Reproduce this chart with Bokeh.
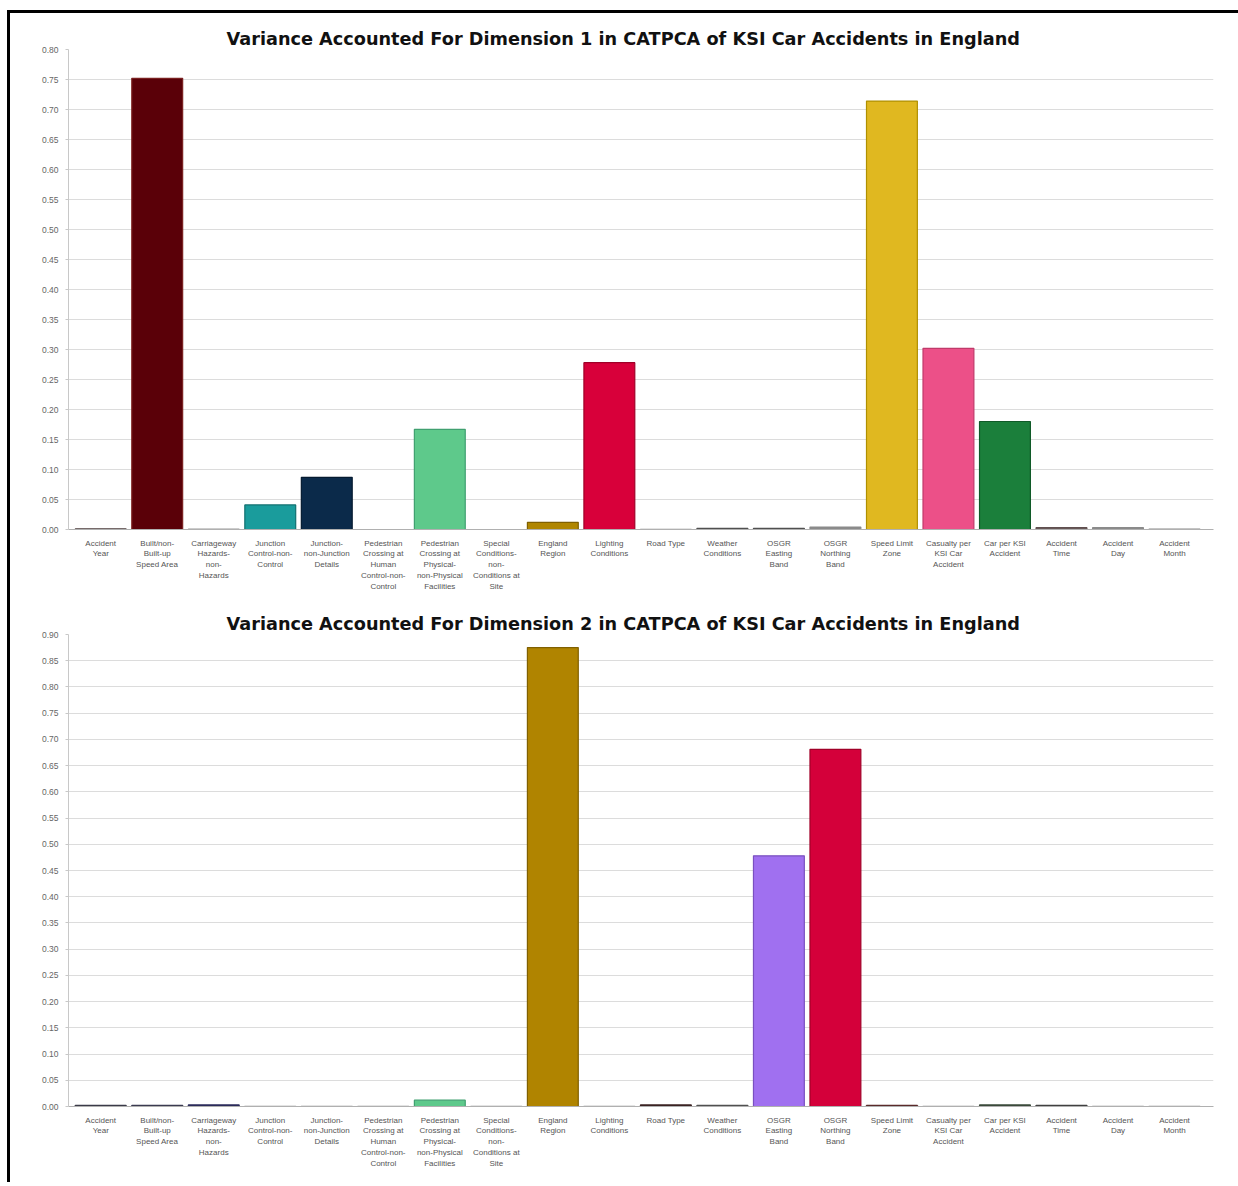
from bokeh.plotting import figure
from bokeh.layouts import column
from bokeh.models import FixedTicker, Range1d, SingleIntervalTicker, NumeralTickFormatter, ColumnDataSource
from bokeh.embed import file_html
from bokeh.resources import INLINE

# ---------------- data ----------------
categories = [
    "Accident\nYear",
    "Built/non-\nBuilt-up\nSpeed Area",
    "Carriageway\nHazards-\nnon-\nHazards",
    "Junction\nControl-non-\nControl",
    "Junction-\nnon-Junction\nDetails",
    "Pedestrian\nCrossing at\nHuman\nControl-non-\nControl",
    "Pedestrian\nCrossing at\nPhysical-\nnon-Physical\nFacilities",
    "Special\nConditions-\nnon-\nConditions at\nSite",
    "England\nRegion",
    "Lighting\nConditions",
    "Road Type",
    "Weather\nConditions",
    "OSGR\nEasting\nBand",
    "OSGR\nNorthing\nBand",
    "Speed Limit\nZone",
    "Casualty per\nKSI Car\nAccident",
    "Car per KSI\nAccident",
    "Accident\nTime",
    "Accident\nDay",
    "Accident\nMonth",
]

dim1_values = [0.001, 0.752, 0.0005, 0.041, 0.087, 0.0, 0.167, 0.0, 0.012, 0.278,
               0.0005, 0.002, 0.002, 0.004, 0.714, 0.302, 0.180, 0.003, 0.003, 0.001]

dim2_values = [0.002, 0.002, 0.003, 0.001, 0.001, 0.001, 0.012, 0.001, 0.875, 0.001,
               0.003, 0.002, 0.478, 0.681, 0.002, 0.001, 0.003, 0.002, 0.001, 0.001]

title1 = "Variance Accounted For Dimension 1 in CATPCA of KSI Car Accidents in England"
title2 = "Variance Accounted For Dimension 2 in CATPCA of KSI Car Accidents in England"

# ---------------- styles ----------------
dim1_colors = ["#5a4848", "#5a0008", "#9a9a9a", "#1a9c9c", "#0b2a4a", "#ffffff", "#5ec98b", "#ffffff",
               "#b08600", "#d8003a", "#c8c8c8", "#555555", "#555555", "#8a8a8a", "#e0b820",
               "#ec5088", "#1b7f3b", "#6a5a5a", "#8a8a8a", "#b0b0b0"]
dim1_lines = ["#4a3a3a", "#7a2020", "#9a9a9a", "#107070", "#051a30", "#ffffff", "#40a070", "#ffffff",
              "#806000", "#a00028", "#c8c8c8", "#505050", "#505050", "#8a8a8a", "#b09000",
              "#c03a6a", "#105a28", "#605050", "#8a8a8a", "#b0b0b0"]

dim2_colors = ["#3a3a48", "#3a3a50", "#2a2a5a", "#c8c8c8", "#c8c8c8", "#c8c8c8", "#5ec98b", "#c8c8c8",
               "#b08400", "#c8c8c8", "#3a2222", "#505050", "#a070f0", "#d4003a", "#5a2a2a",
               "#c8c8c8", "#3a4a3a", "#404040", "#c8c8c8", "#c8c8c8"]
dim2_lines = ["#3a3a48", "#3a3a50", "#2a2a5a", "#c8c8c8", "#c8c8c8", "#c8c8c8", "#40a070", "#c8c8c8",
              "#806000", "#c8c8c8", "#3a2222", "#505050", "#7a50c0", "#a00028", "#5a2a2a",
              "#c8c8c8", "#3a4a3a", "#404040", "#c8c8c8", "#c8c8c8"]


def make_chart(title, values, colors, lines, ymax, top, fh, bottom):
    n = len(categories)
    xs = list(range(n))
    p = figure(output_backend="svg", toolbar_location=None,
               x_range=Range1d(-0.57, n - 1 + 0.69), y_range=Range1d(0, ymax),
               min_border_left=58, min_border_right=25, min_border_top=top,
               min_border_bottom=bottom, frame_height=fh, frame_width=1145)
    p.title.text = title
    p.title.align = "left"
    p.title.offset = 158
    p.title.standoff = 1
    p.title.text_font = "DejaVu Sans"
    p.title.text_font_style = "bold"
    p.title.text_font_size = "17.7px"
    p.title.text_color = "#111111"
    src = ColumnDataSource(dict(x=xs, top=values, fill=colors, line=lines))
    p.vbar(x="x", top="top", width=0.9, bottom=0, source=src, fill_color="fill",
           line_color="line", line_width=1.2)
    p.outline_line_color = None
    p.background_fill_color = "white"
    p.border_fill_color = "white"
    p.xgrid.grid_line_color = None
    p.ygrid.grid_line_color = "#dcdcdc"
    p.ygrid.grid_line_width = 1
    p.xaxis.ticker = FixedTicker(ticks=xs)
    p.xaxis.major_label_overrides = {i: c for i, c in enumerate(categories)}
    p.xaxis.major_tick_line_color = None
    p.xaxis.minor_tick_line_color = None
    p.xaxis.axis_line_color = "#b0b0b0"
    p.xaxis.major_label_text_font = "Liberation Sans"
    p.xaxis.major_label_text_font_size = "8px"
    p.xaxis.major_label_text_color = "#555555"
    p.xaxis.major_label_standoff = 3
    p.yaxis.ticker = SingleIntervalTicker(interval=0.05)
    p.yaxis.formatter = NumeralTickFormatter(format="0.00")
    p.yaxis.axis_line_color = "#c8c8c8"
    p.yaxis.major_tick_line_color = "#c8c8c8"
    p.yaxis.major_tick_out = 3
    p.yaxis.major_tick_in = 0
    p.yaxis.minor_tick_line_color = None
    p.yaxis.major_label_text_font = "Liberation Sans"
    p.yaxis.major_label_text_font_size = "8.5px"
    p.yaxis.major_label_text_color = "#666666"
    p.yaxis.major_label_standoff = 6
    return p


p1 = make_chart(title1, dim1_values, dim1_colors, dim1_lines, 0.80, 36, 480, 75)
p2 = make_chart(title2, dim2_values, dim2_colors, dim2_lines, 0.90, 30, 472, 76)

layout = column(p1, p2, spacing=0, margin=(10, 0, 0, 7),
                styles={"border-left": "3px solid black", "border-top": "3px solid black"})

open("out.html", "w").write(file_html(layout, INLINE))
